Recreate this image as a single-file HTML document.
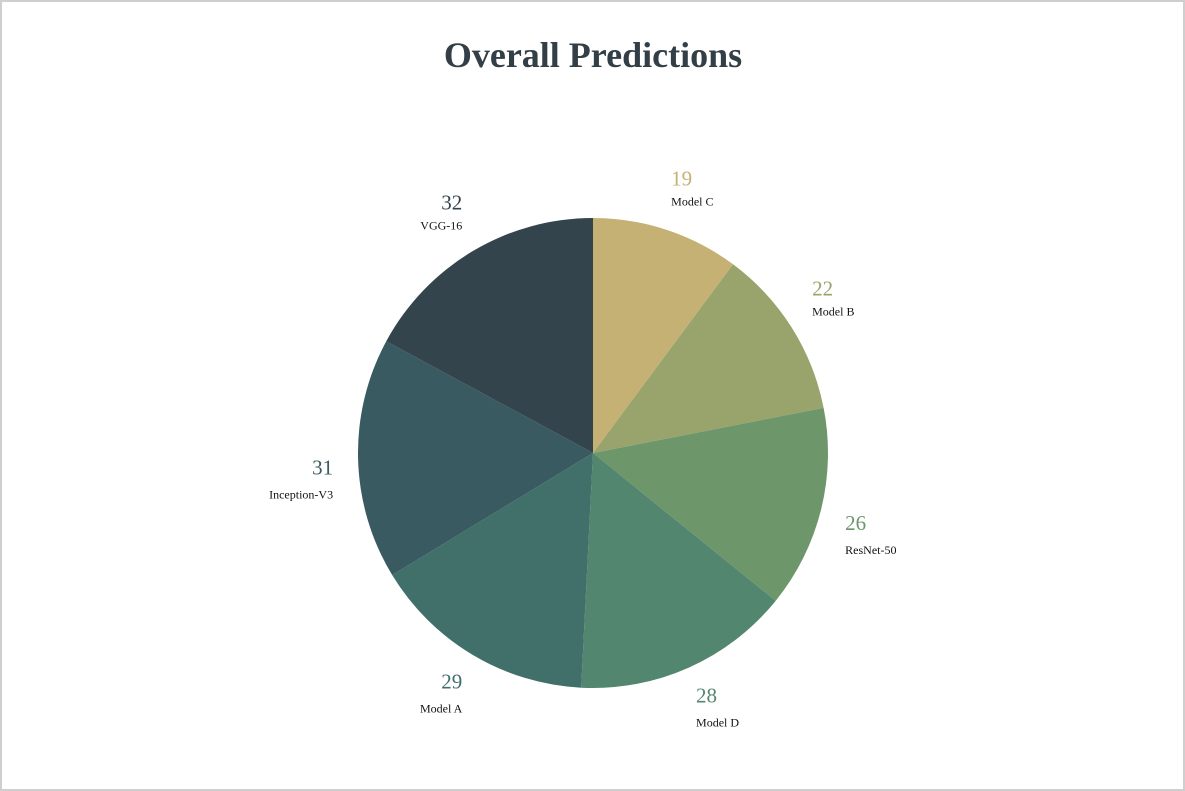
<!DOCTYPE html>
<html><head><meta charset="utf-8"><style>
html,body{margin:0;padding:0;background:#fff;}
#frame{position:absolute;left:0;top:0;width:1181px;height:787px;border:2px solid #cfcfcf;background:#fff;}
svg{position:absolute;left:0;top:0;}
text{font-family:"Liberation Serif",serif;}
</style></head><body>
<div id="frame"></div>
<svg id="chart" width="1185" height="791">
<text x="593" y="67" text-anchor="middle" font-size="36" font-weight="bold" fill="#333f47">Overall Predictions</text>
<g id="slices"></g><g id="labels"></g>
</svg>
<script>
const categories=["Model C","Model B","ResNet-50","Model D","Model A","Inception-V3","VGG-16"];
const values=[19,22,26,28,29,31,32];
const colors=["#c5b173","#98a46b","#6e966b","#53866f","#416f6a","#385a60","#33444c"];
const cx=593,cy=453,R=235,LR=265;
const NS="http://www.w3.org/2000/svg";
const total=values.reduce((a,b)=>a+b,0);
const gS=document.getElementById('slices'),gL=document.getElementById('labels');
function pt(a,r){return [cx+r*Math.sin(a),cy-r*Math.cos(a)];}
let acc=0;
values.forEach((v,i)=>{
  const a0=acc/total*2*Math.PI;acc+=v;const a1=acc/total*2*Math.PI;
  const p0=pt(a0,R),p1=pt(a1,R);
  const large=(a1-a0)>Math.PI?1:0;
  const p=document.createElementNS(NS,'path');
  p.setAttribute('d',`M${cx},${cy}L${p0[0]},${p0[1]}A${R},${R} 0 ${large} 1 ${p1[0]},${p1[1]}Z`);
  p.setAttribute('fill',colors[i]);
  
  
  gS.appendChild(p);
  const am=(a0+a1)/2;const lp=pt(am,LR);
  const right=Math.sin(am)>=0;
  const x=right?lp[0]-5:lp[0]+5;
  const anchor=right?'start':'end';
  const c=Math.cos(am);
  let numBase,nameBase;
  if(c>0){nameBase=lp[1]+4;numBase=lp[1]-16;}
  else{const off=8*(1-Math.abs(c));numBase=lp[1]+7+off;nameBase=numBase+24;}
  const t1=document.createElementNS(NS,'text');
  t1.setAttribute('x',x);t1.setAttribute('y',numBase);
  t1.setAttribute('text-anchor',anchor);t1.setAttribute('font-size','21');t1.setAttribute('fill',colors[i]);
  t1.textContent=v;
  
  
  gL.appendChild(t1);
  const t2=document.createElementNS(NS,'text');
  t2.setAttribute('x',x);t2.setAttribute('y',nameBase);
  t2.setAttribute('text-anchor',anchor);t2.setAttribute('font-size','12');t2.setAttribute('fill','#111');
  t2.textContent=categories[i];
  
  
  gL.appendChild(t2);
});
</script>
</body></html>
